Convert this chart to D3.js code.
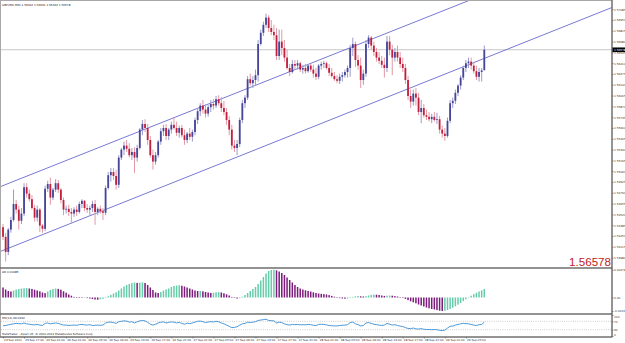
<!DOCTYPE html>
<html>
<head>
<meta charset="utf-8">
<script src="https://cdn.jsdelivr.net/npm/d3@7"></script>
<style>
  body { margin: 0; background: #fff; }
  svg { display: block; }
</style>
</head>
<body>
<svg id="chart" width="625" height="343"></svg>
<script>
// GBPUSD M30 candles, 23-29 Sep 2011
const opens = [
  1.5436,1.5424,1.5405,1.5433,1.5445,1.5465,1.5458,1.5444,1.5453,1.5486,
  1.5478,1.5471,1.5460,1.5448,1.5458,1.5438,1.5434,1.5484,1.5490,1.5473,
  1.5483,1.5491,1.5483,1.5470,1.5458,1.5459,1.5455,1.5453,1.5458,1.5455,
  1.5465,1.5469,1.5460,1.5458,1.5460,1.5465,1.5455,1.5459,1.5456,1.5454,
  1.5485,1.5501,1.5505,1.5500,1.5489,1.5523,1.5533,1.5538,1.5534,1.5526,
  1.5530,1.5523,1.5535,1.5558,1.5565,1.5560,1.5545,1.5526,1.5518,1.5526,
  1.5543,1.5556,1.5560,1.5550,1.5558,1.5564,1.5560,1.5554,1.5560,1.5551,
  1.5545,1.5553,1.5549,1.5555,1.5570,1.5581,1.5588,1.5583,1.5578,1.5586,
  1.5590,1.5588,1.5596,1.5591,1.5585,1.5580,1.5570,1.5558,1.5538,1.5535,
  1.5540,1.5570,1.5591,1.5598,1.5621,1.5616,1.5620,1.5626,1.5665,1.5679,
  1.5689,1.5698,1.5685,1.5680,1.5676,1.5650,1.5668,1.5660,1.5648,1.5635,
  1.5630,1.5640,1.5638,1.5641,1.5633,1.5635,1.5631,1.5638,1.5633,1.5628,
  1.5624,1.5638,1.5640,1.5641,1.5635,1.5629,1.5625,1.5621,1.5619,1.5624,
  1.5626,1.5630,1.5635,1.5660,1.5665,1.5645,1.5638,1.5620,1.5628,1.5665,
  1.5673,1.5663,1.5655,1.5648,1.5644,1.5639,1.5635,1.5668,1.5658,1.5648,
  1.5655,1.5648,1.5640,1.5635,1.5620,1.5600,1.5593,1.5603,1.5598,1.5580,
  1.5585,1.5576,1.5574,1.5571,1.5574,1.5570,1.5571,1.5558,1.5553,1.5550,
  1.5569,1.5591,1.5594,1.5604,1.5613,1.5623,1.5635,1.5641,1.5643,1.5638,
  1.5631,1.5624,1.5630,1.56322
];
const highs = [
  1.5440,1.5429,1.5435,1.5449,1.5483,1.5470,1.5463,1.5460,1.5491,1.5491,
  1.5483,1.5476,1.5464,1.5463,1.5460,1.5440,1.5488,1.5494,1.5498,1.5485,
  1.5496,1.5495,1.5485,1.5473,1.5463,1.5464,1.5460,1.5461,1.5463,1.5468,
  1.5471,1.5470,1.5465,1.5463,1.5469,1.5470,1.5461,1.5463,1.5460,1.5488,
  1.5505,1.5510,1.5510,1.5508,1.5526,1.5535,1.5543,1.5545,1.5541,1.5535,
  1.5536,1.5539,1.5560,1.5570,1.5571,1.5565,1.5550,1.5533,1.5530,1.5545,
  1.5560,1.5564,1.5565,1.5560,1.5568,1.5573,1.5568,1.5563,1.5564,1.5558,
  1.5555,1.5560,1.5558,1.5573,1.5585,1.5591,1.5595,1.5590,1.5589,1.5595,
  1.5596,1.5600,1.5601,1.5599,1.5594,1.5585,1.5575,1.5564,1.5545,1.5545,
  1.5573,1.5595,1.5601,1.5625,1.5628,1.5625,1.5633,1.5670,1.5683,1.5693,
  1.5703,1.5701,1.5695,1.5689,1.5685,1.5683,1.5683,1.5670,1.5658,1.5640,
  1.5645,1.5645,1.5645,1.5643,1.5639,1.5640,1.5640,1.5640,1.5639,1.5635,
  1.5640,1.5643,1.5644,1.5643,1.5640,1.5635,1.5630,1.5626,1.5628,1.5630,
  1.5633,1.5638,1.5664,1.5673,1.5668,1.5651,1.5648,1.5633,1.5670,1.5676,
  1.5675,1.5668,1.5660,1.5655,1.5650,1.5648,1.5675,1.5675,1.5664,1.5660,
  1.5663,1.5655,1.5648,1.5640,1.5625,1.5608,1.5608,1.5610,1.5604,1.5595,
  1.5590,1.5583,1.5580,1.5578,1.5580,1.5579,1.5575,1.5563,1.5560,1.5573,
  1.5595,1.5598,1.5608,1.5615,1.5626,1.5638,1.5645,1.5648,1.5648,1.5643,
  1.5638,1.5635,1.5635,1.56631
];
const lows = [
  1.5420,1.5393,1.5401,1.5429,1.5443,1.5453,1.5433,1.5440,1.5450,1.5473,
  1.5468,1.5458,1.5443,1.5443,1.5430,1.5429,1.5431,1.5480,1.5464,1.5470,
  1.5480,1.5479,1.5466,1.5451,1.5453,1.5450,1.5441,1.5449,1.5450,1.5453,
  1.5460,1.5456,1.5454,1.5451,1.5455,1.5439,1.5451,1.5453,1.5445,1.5451,
  1.5483,1.5493,1.5495,1.5483,1.5485,1.5520,1.5526,1.5530,1.5523,1.5520,
  1.5504,1.5518,1.5533,1.5551,1.5555,1.5539,1.5523,1.5508,1.5514,1.5523,
  1.5539,1.5550,1.5545,1.5545,1.5553,1.5558,1.5550,1.5548,1.5548,1.5539,
  1.5541,1.5545,1.5543,1.5551,1.5565,1.5575,1.5578,1.5573,1.5574,1.5580,
  1.5583,1.5585,1.5588,1.5580,1.5576,1.5564,1.5551,1.5533,1.5530,1.5526,
  1.5536,1.5566,1.5585,1.5595,1.5613,1.5610,1.5614,1.5618,1.5663,1.5675,
  1.5685,1.5680,1.5676,1.5670,1.5645,1.5645,1.5651,1.5643,1.5633,1.5625,
  1.5628,1.5633,1.5633,1.5630,1.5628,1.5628,1.5629,1.5630,1.5623,1.5620,
  1.5621,1.5633,1.5635,1.5633,1.5625,1.5623,1.5619,1.5616,1.5615,1.5618,
  1.5623,1.5623,1.5624,1.5650,1.5636,1.5633,1.5610,1.5614,1.5624,1.5660,
  1.5658,1.5650,1.5643,1.5640,1.5635,1.5623,1.5630,1.5651,1.5626,1.5643,
  1.5643,1.5635,1.5630,1.5615,1.5595,1.5585,1.5588,1.5588,1.5576,1.5566,
  1.5573,1.5570,1.5568,1.5566,1.5568,1.5565,1.5553,1.5548,1.5544,1.5548,
  1.5566,1.5585,1.5590,1.5600,1.5608,1.5620,1.5630,1.5635,1.5633,1.5628,
  1.5620,1.5618,1.5618,1.56322
];
const closes = [
  1.5424,1.5405,1.5433,1.5445,1.5465,1.5458,1.5444,1.5453,1.5486,1.5478,
  1.5471,1.5460,1.5448,1.5458,1.5438,1.5434,1.5484,1.5490,1.5473,1.5483,
  1.5491,1.5483,1.5470,1.5458,1.5459,1.5455,1.5453,1.5458,1.5455,1.5465,
  1.5469,1.5460,1.5458,1.5460,1.5465,1.5455,1.5459,1.5456,1.5454,1.5485,
  1.5501,1.5505,1.5500,1.5489,1.5523,1.5533,1.5538,1.5534,1.5526,1.5530,
  1.5523,1.5535,1.5558,1.5565,1.5560,1.5545,1.5526,1.5518,1.5526,1.5543,
  1.5556,1.5560,1.5550,1.5558,1.5564,1.5560,1.5554,1.5560,1.5551,1.5545,
  1.5553,1.5549,1.5555,1.5570,1.5581,1.5588,1.5583,1.5578,1.5586,1.5590,
  1.5588,1.5596,1.5591,1.5585,1.5580,1.5570,1.5558,1.5538,1.5535,1.5540,
  1.5570,1.5591,1.5598,1.5621,1.5616,1.5620,1.5626,1.5665,1.5679,1.5689,
  1.5698,1.5685,1.5680,1.5676,1.5650,1.5668,1.5660,1.5648,1.5635,1.5630,
  1.5640,1.5638,1.5641,1.5633,1.5635,1.5631,1.5638,1.5633,1.5628,1.5624,
  1.5638,1.5640,1.5641,1.5635,1.5629,1.5625,1.5621,1.5619,1.5624,1.5626,
  1.5630,1.5635,1.5660,1.5665,1.5645,1.5638,1.5620,1.5628,1.5665,1.5673,
  1.5663,1.5655,1.5648,1.5644,1.5639,1.5635,1.5668,1.5658,1.5648,1.5655,
  1.5648,1.5640,1.5635,1.5620,1.5600,1.5593,1.5603,1.5598,1.5580,1.5585,
  1.5576,1.5574,1.5571,1.5574,1.5570,1.5571,1.5558,1.5553,1.5550,1.5569,
  1.5591,1.5594,1.5604,1.5613,1.5623,1.5635,1.5641,1.5643,1.5638,1.5631,
  1.5624,1.5630,1.5632,1.56578
];

// Awesome Oscillator, one value per bar
const aoValues = [
  0.00100,0.00080,0.00065,0.00060,0.00070,0.00080,0.00085,0.00090,0.00092,0.00094,
  0.00090,0.00086,0.00078,0.00070,0.00062,0.00050,0.00044,0.00060,0.00075,0.00085,
  0.00090,0.00086,0.00078,0.00062,0.00048,0.00030,0.00018,0.00006,0.00002,-0.00004,
  -0.00005,-0.00003,-0.00006,-0.00010,-0.00015,-0.00020,-0.00022,-0.00018,-0.00014,-0.00004,
  0.00012,0.00026,0.00040,0.00052,0.00070,0.00090,0.00110,0.00125,0.00135,0.00145,
  0.00150,0.00146,0.00148,0.00152,0.00145,0.00125,0.00100,0.00075,0.00050,0.00045,
  0.00055,0.00070,0.00080,0.00090,0.00105,0.00115,0.00120,0.00122,0.00118,0.00110,
  0.00100,0.00090,0.00080,0.00070,0.00065,0.00066,0.00062,0.00055,0.00050,0.00046,
  0.00048,0.00052,0.00054,0.00050,0.00042,0.00032,0.00020,0.00006,-0.00004,-0.00010,
  -0.00006,0.00008,0.00025,0.00045,0.00065,0.00085,0.00105,0.00135,0.00170,0.00205,
  0.00240,0.00265,0.00275,0.00278,0.00272,0.00260,0.00245,0.00225,0.00200,0.00175,
  0.00150,0.00125,0.00105,0.00090,0.00080,0.00072,0.00066,0.00060,0.00052,0.00045,
  0.00040,0.00036,0.00034,0.00030,0.00024,0.00016,0.00008,0.00000,-0.00006,-0.00010,
  -0.00012,-0.00011,-0.00004,0.00006,0.00012,0.00015,0.00012,0.00010,0.00014,0.00020,
  0.00026,0.00029,0.00028,0.00025,0.00020,0.00016,0.00018,0.00020,0.00018,0.00014,
  0.00010,0.00004,-0.00004,-0.00014,-0.00026,-0.00038,-0.00048,-0.00058,-0.00070,-0.00080,
  -0.00090,-0.00100,-0.00108,-0.00115,-0.00120,-0.00126,-0.00132,-0.00135,-0.00133,-0.00126,
  -0.00115,-0.00102,-0.00088,-0.00072,-0.00055,-0.00036,-0.00018,0.00000,0.00018,0.00034,
  0.00048,0.00060,0.00072,0.00085
];

// RSI(14), one value per bar
const rsiValues = [
  49,50,53,56,58,60,59,58,62,58,
  56,54,53,55,52,50,60,62,58,60,
  62,60,56,52,52,50,51,52,51,54,
  55,53,52,54,50,51,52,51,52,62,
  66,66,64,60,68,70,72,71,66,68,
  62,68,72,74,72,65,56,52,56,62,
  66,67,62,65,67,66,62,65,60,56,
  61,59,62,66,70,71,68,64,67,68,
  67,70,68,62,58,52,46,40,41,44,
  52,58,60,66,64,66,68,74,76,78,
  80,74,73,72,62,66,64,58,54,52,
  55,54,55,53,54,53,55,54,51,50,
  55,56,55,53,50,49,48,48,50,51,
  52,54,64,66,58,54,48,50,62,64,
  60,56,54,52,50,52,60,56,52,54,
  50,47,45,40,36,35,38,34,33,35,
  32,31,31,30,31,30,27,26,28,38,
  46,47,52,55,58,60,59,58,55,52,
  50,54,55,66.0932
];

// equidistant channel anchors (bar index, price)
const channelUpper = [[0, 1.5488], [183, 1.5727]];
const channelLower = [[0, 1.5407], [183, 1.5647]];

const priceTicks = [1.57085,1.56950,1.56815,1.56680,1.56545,1.56410,1.56275,1.56140,
  1.56005,1.55870,1.55735,1.55600,1.55465,1.55330,1.55195,1.55060,1.54925,1.54790,
  1.54655,1.54520,1.54385,1.54250,1.54115,1.53980];
const aoTicks = [0.00278, 0, -0.00135];
const aoTickLabels = ["0.00278", "0.00", "-0.0013"];
const rsiTicks = [100, 70, 30, 0];
const rsiLevels = [70, 30];
const barsPerLabel = 8;
const timeLabels = ["23 Sep 2011","23 Sep 17:00","23 Sep 21:00","26 Sep 01:00","26 Sep 05:00",
  "26 Sep 09:00","26 Sep 13:00","26 Sep 17:00","26 Sep 21:00","27 Sep 01:00","27 Sep 05:00",
  "27 Sep 09:00","27 Sep 13:00","27 Sep 17:00","27 Sep 21:00","28 Sep 01:00","28 Sep 05:00",
  "28 Sep 09:00","28 Sep 13:00","28 Sep 17:00","28 Sep 21:00","29 Sep 01:00","29 Sep 05:00"];

const symbolTitle = "GBPUSD,M30";
const copyright = "MetaTrader - Alpari UK, \u00a9 2001-2014 MetaQuotes Software Corp.";

// ---- layout ----
const N = closes.length;
const last = N - 1;
const plotLeft = 1, plotRight = 612;
const mainTop = 1, mainBottom = 268;
const aoTop = 268, aoBottom = 314;
const rsiTop = 314, rsiBottom = 337;
const tiny = 2.8;
const font = "Tahoma, 'DejaVu Sans', sans-serif";

const bullBody = "#45459a", bearBody = "#c21f3d";
const bullWick = "#9b9bcc", bearWick = "#e39aa6";
const aoUp = "#66cdaa", aoDown = "#7d1a7d";

const svg = d3.select("#chart");

let barX = d3.scaleLinear().domain([-0.5, N - 0.5]).range([1.7, 1.7 + N * 2.63]);
let bodyW = 1.8;

let priceY = d3.scaleLinear().domain([1.538625, 1.57175]).range([267, 2]);
let aoY = d3.scaleLinear().domain([-0.0016, 0.00285]).range([313.5, 269]);
let rsiY = d3.scaleLinear().domain([0, 100]).range([336, 315]);

let defs = svg.append("defs");
defs.append("clipPath").attr("id", "clipMain").append("rect")
  .attr("x", plotLeft).attr("y", mainTop).attr("width", plotRight - plotLeft).attr("height", mainBottom - mainTop);

// bid line
svg.append("line")
  .attr("x1", plotLeft).attr("x2", plotRight)
  .attr("y1", priceY(closes[last])).attr("y2", priceY(closes[last]))
  .attr("stroke", "#c6c6c6").attr("stroke-width", 1);

// channel lines, extended to both plot edges
let mainG = svg.append("g").attr("clip-path", "url(#clipMain)");
[channelUpper, channelLower].forEach(function(ch) {
  let slope = (ch[1][1] - ch[0][1]) / (ch[1][0] - ch[0][0]);
  let b0 = barX.invert(plotLeft), b1 = barX.invert(plotRight);
  mainG.append("line")
    .attr("x1", barX(b0)).attr("y1", priceY(ch[0][1] + slope * (b0 - ch[0][0])))
    .attr("x2", barX(b1)).attr("y2", priceY(ch[0][1] + slope * (b1 - ch[0][0])))
    .attr("stroke", "#6a6ad0").attr("stroke-width", 0.9);
});

// candles
let idx = d3.range(N);
mainG.selectAll("line.wick").data(idx).join("line")
  .attr("class", "wick")
  .attr("x1", i => barX(i)).attr("x2", i => barX(i))
  .attr("y1", i => priceY(highs[i])).attr("y2", i => priceY(lows[i]))
  .attr("stroke", i => closes[i] >= opens[i] ? bullWick : bearWick)
  .attr("stroke-width", 1);

mainG.selectAll("rect.body").data(idx).join("rect")
  .attr("class", "body")
  .attr("x", i => barX(i) - bodyW / 2)
  .attr("width", bodyW)
  .attr("y", i => priceY(Math.max(opens[i], closes[i])))
  .attr("height", i => Math.max(0.8, Math.abs(priceY(opens[i]) - priceY(closes[i]))))
  .attr("fill", i => closes[i] >= opens[i] ? bullBody : bearBody);

// big price label
svg.append("text")
  .attr("x", 611).attr("y", 265.5)
  .attr("text-anchor", "end")
  .attr("font-family", "'Liberation Sans', Arial, sans-serif")
  .attr("font-size", 11.6)
  .attr("fill", "#c01a1a")
  .text(d3.format(".5f")(closes[last]));

// AO histogram
svg.selectAll("rect.ao").data(idx).join("rect")
  .attr("class", "ao")
  .attr("x", i => barX(i) - 0.75)
  .attr("width", 1.5)
  .attr("y", i => aoY(Math.max(0, aoValues[i])))
  .attr("height", i => Math.max(0.5, Math.abs(aoY(aoValues[i]) - aoY(0))))
  .attr("fill", i => (i > 0 && aoValues[i] > aoValues[i - 1]) ? aoUp : aoDown);

// RSI
rsiLevels.forEach(function(v) {
  svg.append("line")
    .attr("x1", plotLeft).attr("x2", plotRight)
    .attr("y1", rsiY(v)).attr("y2", rsiY(v))
    .attr("stroke", "#9a9a9a").attr("stroke-width", 0.6)
    .attr("stroke-dasharray", "0.8,1.4");
});
svg.append("path")
  .datum(idx)
  .attr("fill", "none")
  .attr("stroke", "#3a8fd6")
  .attr("stroke-width", 0.9)
  .attr("d", d3.line().x(i => barX(i)).y(i => rsiY(rsiValues[i])));

// frames and separators
svg.append("rect")
  .attr("x", 0.5).attr("y", 0.5).attr("width", plotRight - 0.5).attr("height", rsiBottom - 0.5)
  .attr("fill", "none").attr("stroke", "#a8a8a8").attr("stroke-width", 1);
[mainBottom, aoBottom].forEach(function(y) {
  svg.append("line").attr("x1", 0).attr("x2", plotRight).attr("y1", y).attr("y2", y)
    .attr("stroke", "#6e6e6e").attr("stroke-width", 1.3);
});
svg.append("line").attr("x1", plotRight).attr("x2", plotRight).attr("y1", 0).attr("y2", rsiBottom)
  .attr("stroke", "#555").attr("stroke-width", 1);
svg.append("line").attr("x1", 0).attr("x2", plotRight).attr("y1", rsiBottom).attr("y2", rsiBottom)
  .attr("stroke", "#555").attr("stroke-width", 1);

function styleAxis(g) {
  g.attr("font-size", tiny).attr("font-family", font);
  g.select(".domain").remove();
  g.selectAll(".tick line").attr("stroke", "#555").attr("stroke-width", 0.6);
  g.selectAll(".tick text").attr("fill", "#333");
}

// price axis
svg.append("g")
  .attr("transform", "translate(" + plotRight + ",0)")
  .call(d3.axisRight(priceY).tickValues(priceTicks).tickSize(1.5).tickPadding(0.6).tickFormat(d3.format(".5f")))
  .call(styleAxis);

// current price box
let bidY = priceY(closes[last]);
svg.append("rect").attr("x", plotRight + 0.5).attr("y", bidY - 2.3).attr("width", 12.5).attr("height", 4.6).attr("fill", "#000");
svg.append("text").attr("x", plotRight + 2).attr("y", bidY).attr("dy", "0.35em")
  .attr("font-size", tiny).attr("font-family", font).attr("fill", "#fff")
  .text(d3.format(".5f")(closes[last]));

// AO axis
svg.append("g")
  .attr("transform", "translate(" + plotRight + ",0)")
  .call(d3.axisRight(aoY).tickValues(aoTicks).tickSize(1.5).tickPadding(0.6).tickFormat((d, i) => aoTickLabels[i]))
  .call(styleAxis);

// RSI axis
let rsiAxisG = svg.append("g")
  .attr("transform", "translate(" + plotRight + ",0)")
  .call(d3.axisRight(rsiY).tickValues(rsiTicks).tickSize(1.5).tickPadding(0.6).tickFormat(d3.format("d")))
  .call(styleAxis);
rsiAxisG.selectAll(".tick text").attr("dy", d => d === 100 ? "0.9em" : (d === 0 ? "-0.1em" : "0.32em"));

// time axis
let timeG = svg.append("g")
  .attr("transform", "translate(0," + rsiBottom + ")")
  .call(d3.axisBottom(barX)
    .tickValues(timeLabels.map((_, k) => k * barsPerLabel))
    .tickSize(1.5).tickPadding(0.4)
    .tickFormat((d, k) => timeLabels[k]))
  .call(styleAxis);
timeG.selectAll(".tick text").attr("text-anchor", "start").attr("x", 0.6);

// window titles
function title(x, y, s) {
  svg.append("text").attr("x", x).attr("y", y)
    .attr("font-size", tiny).attr("font-family", font).attr("fill", "#222").text(s);
}
let fmt5 = d3.format(".5f");
title(2, 5.5, symbolTitle + " " + fmt5(opens[last]) + " " + fmt5(highs[last]) + " " + fmt5(lows[last]) + " " + fmt5(closes[last]));
title(2, 272.5, "AO " + fmt5(aoValues[last]));
title(2, 318.5, "RSI(14) " + d3.format(".4f")(rsiValues[last]));
title(2, 335, copyright);
</script>
</body>
</html>
